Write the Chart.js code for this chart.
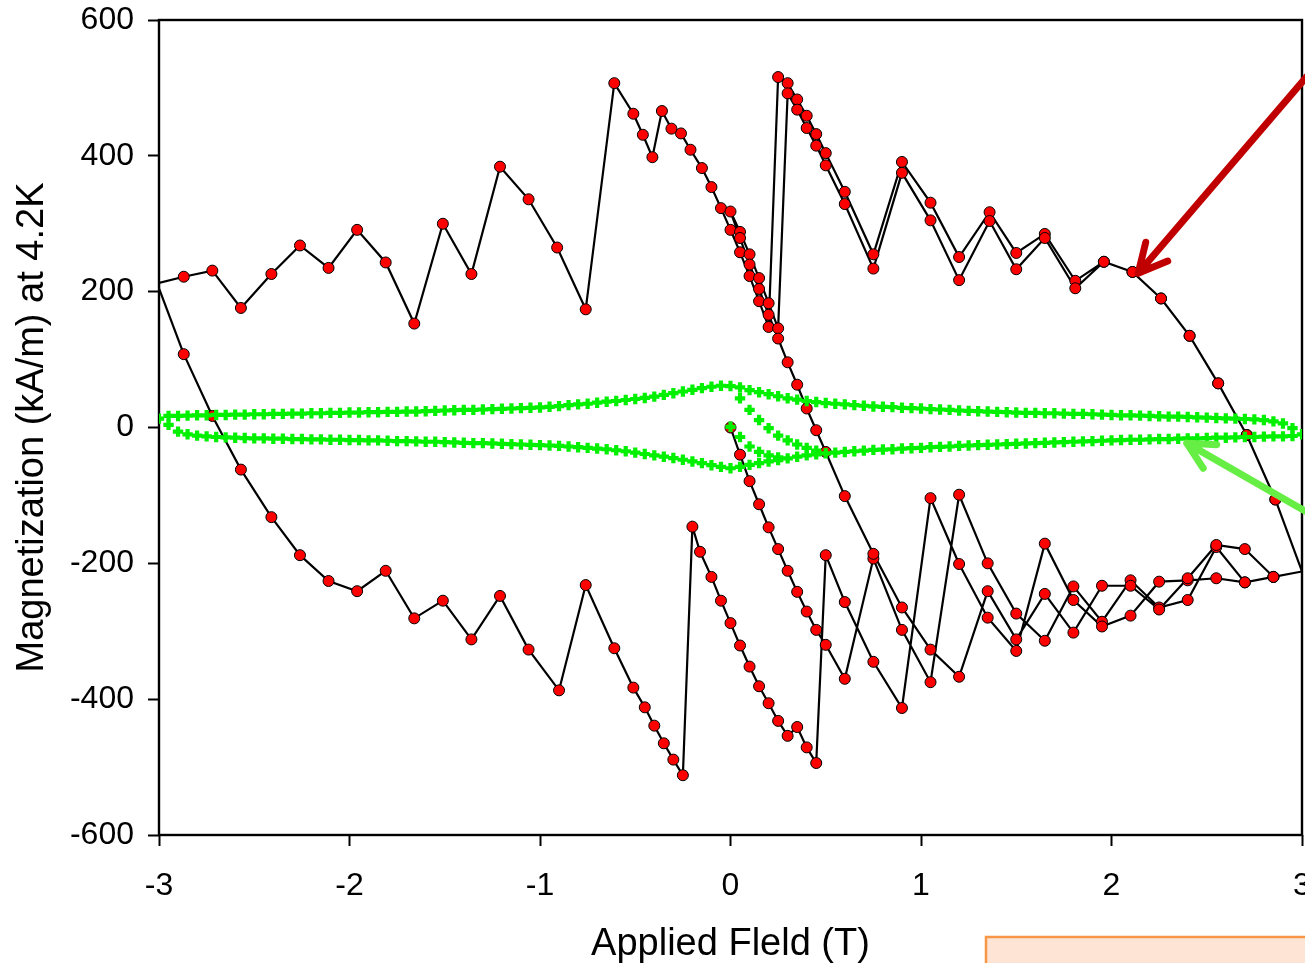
<!DOCTYPE html>
<html>
<head>
<meta charset="utf-8">
<script src="https://cdn.jsdelivr.net/npm/chart.js@4.4.1/dist/chart.umd.min.js"></script>
<style>
  html, body { margin: 0; padding: 0; background: #fff; overflow: hidden; }
  #wrap { position: relative; width: 1305px; height: 963px; }
</style>
</head>
<body>
<div id="wrap"><canvas id="chart" width="1305" height="963"></canvas></div>
<script>
// ---- green loop (measured every 0.05 T, markers only) ----
const fieldX = [
  -3.00, -2.95, -2.90, -2.85, -2.80, -2.75, -2.70, -2.65, -2.60, -2.55,
  -2.50, -2.45, -2.40, -2.35, -2.30, -2.25, -2.20, -2.15, -2.10, -2.05,
  -2.00, -1.95, -1.90, -1.85, -1.80, -1.75, -1.70, -1.65, -1.60, -1.55,
  -1.50, -1.45, -1.40, -1.35, -1.30, -1.25, -1.20, -1.15, -1.10, -1.05,
  -1.00, -0.95, -0.90, -0.85, -0.80, -0.75, -0.70, -0.65, -0.60, -0.55,
  -0.50, -0.45, -0.40, -0.35, -0.30, -0.25, -0.20, -0.15, -0.10, -0.05,
   0.00,  0.05,  0.10,  0.15,  0.20,  0.25,  0.30,  0.35,  0.40,  0.45,
   0.50,  0.55,  0.60,  0.65,  0.70,  0.75,  0.80,  0.85,  0.90,  0.95,
   1.00,  1.05,  1.10,  1.15,  1.20,  1.25,  1.30,  1.35,  1.40,  1.45,
   1.50,  1.55,  1.60,  1.65,  1.70,  1.75,  1.80,  1.85,  1.90,  1.95,
   2.00,  2.05,  2.10,  2.15,  2.20,  2.25,  2.30,  2.35,  2.40,  2.45,
   2.50,  2.55,  2.60,  2.65,  2.70,  2.75,  2.80,  2.85,  2.90,  2.95,
   3.00
];
const greenUpperY = [
  13, 17, 17, 17.5, 18, 18, 18.5, 18.5, 19, 19,
  19.5, 19.5, 20, 20, 20.5, 20.5, 21, 21, 21.5, 21.5,
  22, 22, 22.5, 22.5, 23, 23, 23.5, 23.5, 24, 24.5,
  25, 25.5, 26, 26, 26.5, 27, 27.5, 28, 28.5, 29,
  29.5, 30.5, 31.5, 33, 34, 35, 36.5, 38, 39, 40.5,
  42, 43.5, 45.5, 48, 50.5, 53, 55.5, 58, 60, 61.5,
  61, 59, 55, 52, 49, 46, 43, 41, 39, 37.5,
  36, 35, 34, 33, 32, 31, 30.5, 30, 29, 28.5,
  28, 27, 26.5, 26, 25, 24.5, 24, 23.5, 23, 22.5,
  22, 21.5, 21.5, 21, 21, 20.5, 20, 20, 19.5, 19,
  18.5, 18, 18, 17.5, 17, 16.5, 16, 16, 15.5, 15,
  14.5, 14, 13.5, 13, 12.5, 12, 11, 9, 6, -1,
  -10
];
const greenLowerY = [
  null, 4, -6, -10, -12, -13, -14, -14.5, -15, -15.5,
  -16, -16, -16.5, -16.5, -17, -17, -17.5, -17.5, -18, -18,
  -18.5, -18.5, -19, -19, -19.5, -20, -20, -20.5, -21, -21,
  -21.5, -22, -22.5, -23, -23, -23.5, -24, -24.5, -25, -25.5,
  -26, -26.5, -27, -28, -29, -30, -31, -32, -33.5, -35,
  -37, -39, -41, -43, -45, -47.5, -50, -52.5, -55.5, -58,
  -60, -58, -55, -52.5, -50, -48, -45.5, -43, -41, -39.5,
  -38, -37, -36, -35, -34, -33, -32.5, -32, -31, -30.5,
  -30, -29, -28.5, -28, -27, -26.5, -26, -25.5, -25, -24.5,
  -24, -23.5, -23, -22.5, -22, -21.5, -21, -20.5, -20, -19.5,
  -19, -18.5, -18, -18, -17.5, -17, -17, -16.5, -16, -16,
  -15.5, -15, -15, -14.5, -14, -14, -13.5, -13, -13, -12.5,
  null
];
const greenVirginX = [0.00, 0.05, 0.10, 0.15, 0.20, 0.25];
const greenVirginY = [1, -14, -28, -36, -41, -44];
const greenInnerX = [0.05, 0.10, 0.15, 0.20, 0.25, 0.30, 0.35, 0.40, 0.45];
const greenInnerY = [43, 26, 11, -1, -12, -19, -25, -30, -34];

// ---- red sample: one continuous sweep history ----
const virginX = [0.00, 0.05, 0.10, 0.15, 0.20, 0.25, 0.30, 0.35, 0.40, 0.45, 0.50, 0.60, 0.75, 0.90,
  1.05, 1.20, 1.35, 1.50, 1.65, 1.80, 1.95, 2.10, 2.25, 2.40, 2.55, 2.70, 2.85, 3.00];
const virginY = [0, -40, -79, -113, -147, -179, -211, -242, -271, -298, -320, -370, -193, -298,
  -375, -99, -200, -274, -314, -234, -286, -225, -265, -254, -176, -228, -220, -212];

const down1X = [2.86, 2.71, 2.56, 2.41, 2.26, 2.11, 1.96, 1.81, 1.65, 1.50, 1.36, 1.20, 1.05, 0.90, 0.75, 0.60,
  0.50, 0.45, 0.40, 0.35, 0.30, 0.25, 0.20, 0.15, 0.10, 0.05, 0.00,
  -0.05, -0.10, -0.15, -0.21, -0.26, -0.31, -0.36, -0.41, -0.46, -0.51,
  -0.61, -0.76, -0.91, -1.06, -1.21, -1.36, -1.51, -1.66, -1.81, -1.96,
  -2.11, -2.26, -2.41, -2.57, -2.72, -2.87, -3.00];
const down1Y = [-106, -11, 65, 135, 190, 229, 244, 216, 285, 257, 317, 251, 331, 391, 255, 347,
  404, 432, 459, 483, 507, 516, 148, 186, 223, 258, 291,
  323, 354, 382, 409, 433, 440, 466, 398, 431, 462,
  507, 174, 265, 336, 384, 226, 300, 153, 243, 291,
  235, 268, 226, 176, 231, 222, 213];

const up1X = [-3.00, -2.87, -2.72, -2.57, -2.41, -2.26, -2.11, -1.96,
  -1.81, -1.66, -1.51, -1.36, -1.21, -1.06, -0.90, -0.76, -0.61,
  -0.51, -0.45, -0.40, -0.35, -0.30, -0.25, -0.20, -0.16, -0.10, -0.05, 0.00,
  0.05, 0.10, 0.15, 0.20, 0.25, 0.30, 0.35, 0.40, 0.45, 0.50,
  0.60, 0.75, 0.90, 1.05, 1.20, 1.35, 1.50, 1.65, 1.80, 1.95,
  2.10, 2.25, 2.40, 2.55, 2.70, 2.85, 3.00];
const up1Y = [205, 108, 17, -62, -132, -188, -226, -241,
  -211, -281, -255, -312, -248, -327, -387, -232, -325,
  -383, -412, -439, -465, -489, -512, -146, -183, -220, -255, -288,
  -321, -352, -381, -406, -432, -454, -441, -471, -494, -188,
  -257, -345, -413, -104, -201, -280, -329, -171, -254, -293,
  -277, -227, -225, -222, -228, -220, -212];

const down2X = [2.86, 2.71, 2.56, 2.41, 2.26, 2.11, 1.96, 1.81, 1.65, 1.50, 1.36, 1.20, 1.05, 0.90, 0.75, 0.60,
  0.50, 0.45, 0.40, 0.35, 0.30, 0.25, 0.20, 0.15, 0.10, 0.05, 0.00];
const down2Y = [-106, -11, 65, 135, 190, 229, 244, 205, 279, 233, 304, 217, 305, 375, 234, 329,
  386, 415, 441, 468, 492, 146, 183, 220, 255, 288, 318];

const up2X = [0.05, 0.10, 0.15, 0.20, 0.25, 0.30, 0.35, 0.40, 0.45, 0.50, 0.60, 0.75, 0.90,
  1.05, 1.20, 1.35, 1.50, 1.65, 1.80, 1.95, 2.10, 2.25, 2.40, 2.55, 2.70, 2.85, 3.00];
const up2Y = [279, 240, 204, 166, 131, 96, 63, 28, -4, -36, -101, -186, -265,
  -327, -367, -241, -312, -245, -302, -233, -233, -268, -222, -173, -179, -220, -212];

const xTicks = [-3, -2, -1, 0, 1, 2, 3];
const yTicks = [-600, -400, -200, 0, 200, 400, 600];

// annotation arrows, in data units (tip, tail)
const redArrow = { tip: [2.14, 227], tail: [3.06, 528] };
const greenArrow = { tip: [2.395, -23], tail: [3.06, -130] };

const pts = (xs, ys) => xs.map((x, i) => ({ x: x, y: ys[i] })).filter(p => p.y !== null);

const redPath = [
  ...pts(virginX, virginY),
  ...pts(down1X, down1Y),
  ...pts(up1X, up1Y),
  ...pts(down2X, down2Y),
  ...pts(up2X, up2Y)
];

const greenStyle = {
  showLine: false,
  pointStyle: 'cross',
  pointRadius: 5.2,
  pointBorderWidth: 4.2,
  pointBorderColor: '#00f000',
  pointBackgroundColor: '#00f000',
  borderColor: '#00f000'
};

function drawArrow(ctx, x1, y1, x2, y2, color, width, head, spread) {
  // x1,y1 = tip
  const ang = Math.atan2(y2 - y1, x2 - x1);
  ctx.save();
  ctx.strokeStyle = color;
  ctx.lineWidth = width;
  ctx.lineCap = 'round';
  ctx.lineJoin = 'round';
  ctx.beginPath();
  ctx.moveTo(x2, y2);
  ctx.lineTo(x1, y1);
  ctx.moveTo(x1 + head * Math.cos(ang - spread), y1 + head * Math.sin(ang - spread));
  ctx.lineTo(x1, y1);
  ctx.lineTo(x1 + head * Math.cos(ang + spread), y1 + head * Math.sin(ang + spread));
  ctx.stroke();
  ctx.restore();
}

const frame = {
  id: 'frame',
  beforeDatasetsDraw(chart) {
    const { ctx, chartArea: a } = chart;
    ctx.save();
    ctx.strokeStyle = '#000';
    ctx.lineWidth = 2.4;
    ctx.strokeRect(a.left, a.top, a.right - a.left, a.bottom - a.top);
    ctx.restore();
  },
  afterDraw(chart) {
    const { ctx } = chart;
    const sx = chart.scales.x, sy = chart.scales.y;
    const px = p => [sx.getPixelForValue(p[0]), sy.getPixelForValue(p[1])];
    let t = px(redArrow.tip), e = px(redArrow.tail);
    drawArrow(ctx, t[0], t[1], e[0], e[1], '#c00000', 7, 32, 0.47);
    t = px(greenArrow.tip); e = px(greenArrow.tail);
    drawArrow(ctx, t[0], t[1], e[0], e[1], '#66ee44', 7, 30, 0.47);

    // note box peeking in at the bottom right
    ctx.save();
    ctx.fillStyle = '#fde4d4';
    ctx.strokeStyle = '#f79646';
    ctx.lineWidth = 2.5;
    ctx.fillRect(986, 937, 330, 40);
    ctx.strokeRect(986, 937, 330, 40);
    ctx.restore();
  }
};

new Chart(document.getElementById('chart'), {
  type: 'scatter',
  data: {
    datasets: [
      Object.assign({ data: pts(fieldX, greenUpperY) }, greenStyle),
      Object.assign({ data: pts(fieldX, greenLowerY) }, greenStyle),
      Object.assign({ data: pts(greenVirginX, greenVirginY) }, greenStyle),
      Object.assign({ data: pts(greenInnerX, greenInnerY) }, greenStyle),
      {
        data: redPath,
        showLine: true,
        tension: 0,
        borderColor: '#000',
        borderWidth: 2.2,
        pointBackgroundColor: '#ff0000',
        pointBorderColor: '#000',
        pointBorderWidth: 1,
        pointRadius: c => (c.raw && Math.abs(c.raw.x) >= 2.995 ? 0 : 5.5)
      }
    ]
  },
  options: {
    responsive: false,
    devicePixelRatio: 1,
    animation: false,
    events: [],
    layout: { autoPadding: false, padding: { left: 0, right: 3, top: 20, bottom: 0 } },
    plugins: { legend: { display: false }, tooltip: { enabled: false } },
    scales: {
      x: {
        type: 'linear',
        min: -3, max: 3,
        afterBuildTicks: s => { s.ticks = xTicks.map(v => ({ value: v })); },
        afterFit: s => { s.height = 128; s.paddingLeft = 0; s.paddingRight = 0; },
        grid: { drawOnChartArea: false, drawTicks: true, tickLength: 11, tickColor: '#000', tickWidth: 2 },
        border: { display: false },
        ticks: { color: '#000', padding: 21, autoSkip: false, maxRotation: 0,
          font: { family: "'Liberation Sans', Arial, sans-serif", size: 32 } },
        title: { display: true, text: 'Applied Fleld (T)', color: '#000', padding: { top: 0, bottom: -4 },
          font: { family: "'Liberation Sans', Arial, sans-serif", size: 38 } }
      },
      y: {
        type: 'linear',
        min: -600, max: 600,
        afterBuildTicks: s => { s.ticks = yTicks.map(v => ({ value: v })); },
        afterFit: s => { s.width = 159; s.paddingTop = 0; s.paddingBottom = 0; },
        grid: { drawOnChartArea: false, drawTicks: true, tickLength: 11, tickColor: '#000', tickWidth: 2 },
        border: { display: false },
        ticks: { color: '#000', padding: 14, autoSkip: false,
          font: { family: "'Liberation Sans', Arial, sans-serif", size: 32 } },
        title: { display: true, text: 'Magnetization (kA/m) at 4.2K', color: '#000', padding: { top: 10, bottom: 0 },
          font: { family: "'Liberation Sans', Arial, sans-serif", size: 38 } }
      }
    }
  },
  plugins: [frame]
});
</script>
</body>
</html>
